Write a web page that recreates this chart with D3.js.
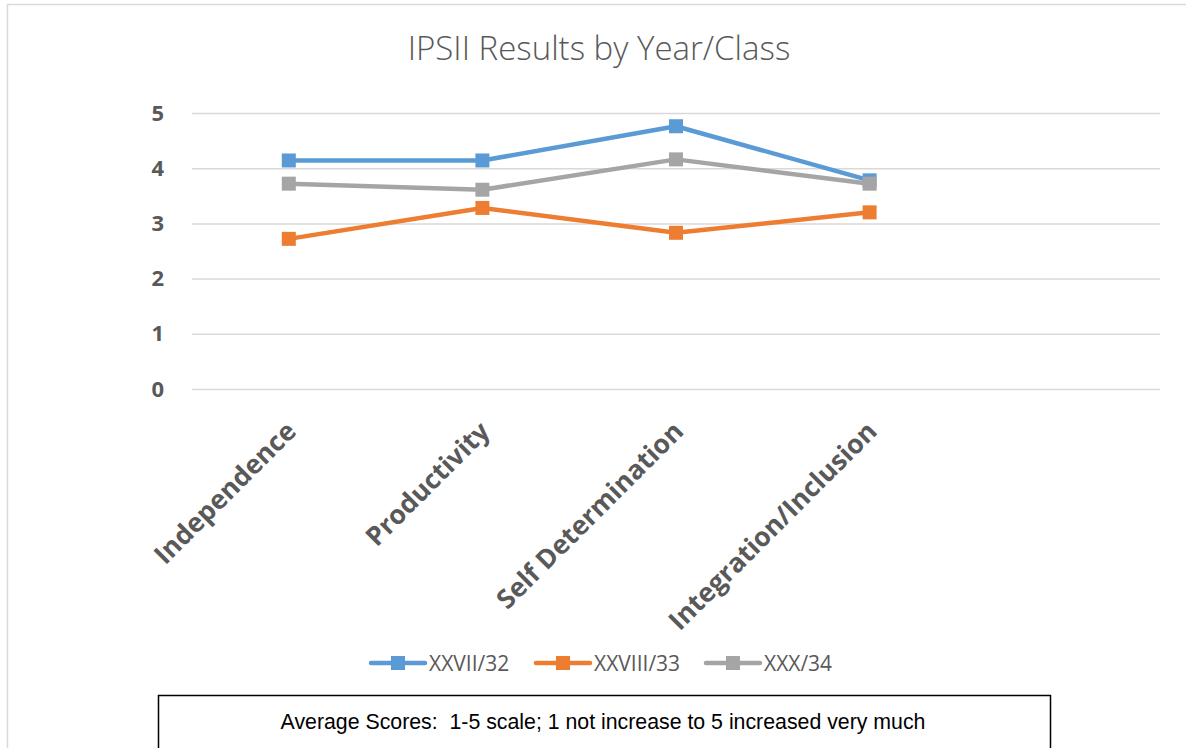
<!DOCTYPE html>
<html>
<head>
<meta charset="utf-8">
<script src="https://cdn.jsdelivr.net/npm/d3@7"></script>
<style>
  body { margin: 0; background: #fff; }
  text { font-family: "Open Sans", "Liberation Sans", sans-serif; }
</style>
</head>
<body>
<div id="chart"></div>
<script>
// Chart values
var categories = ["Independence", "Productivity", "Self Determination", "Integration/Inclusion", ""];
var seriesNames = ["XXVII/32", "XXVIII/33", "XXX/34"];
var xxvii = [4.14, 4.14, 4.76, 3.78];
var xxviii = [2.72, 3.28, 2.83, 3.2];
var xxx = [3.72, 3.61, 4.16, 3.72];
var yTicks = [0, 1, 2, 3, 4, 5];
var colors = ["#5b9bd5", "#ed7d31", "#a5a5a5"];

var svgWidth = 1186;
var svgHeight = 748;

var margin = { top: 113, right: 26, bottom: 359, left: 192 };
var width = svgWidth - margin.left - margin.right;
var height = svgHeight - margin.top - margin.bottom;

var svg = d3.select("#chart")
  .append("svg")
  .attr("width", svgWidth)
  .attr("height", svgHeight);

// outer chart border
svg.append("rect")
  .attr("x", 7.5).attr("y", 4.5)
  .attr("width", svgWidth).attr("height", svgHeight)
  .attr("fill", "none")
  .attr("stroke", "#d9d9d9")
  .attr("stroke-width", 1.5);

svg.append("text")
  .attr("x", 599)
  .attr("y", 60)
  .attr("text-anchor", "middle")
  .attr("fill", "#595959")
  .style("font-size", "33px")
  .style("font-weight", 300)
  .text("IPSII Results by Year/Class");

var chartGroup = svg.append("g")
  .attr("transform", `translate(${margin.left}, ${margin.top})`);

var xScale = d3.scaleBand().domain(categories).range([0, width]);
var yScale = d3.scaleLinear().domain([0, 5]).range([height, 0]);

// gridlines
var yAxis = d3.axisLeft(yScale).tickValues(yTicks).tickSize(-width).tickPadding(28).tickFormat(d3.format("d"));
var yg = chartGroup.append("g").call(yAxis);
yg.select(".domain").remove();
yg.selectAll(".tick line").attr("stroke", "#d9d9d9").attr("stroke-width", 1.5);
yg.selectAll(".tick text")
  .attr("fill", "#595959")
  .style("font-size", "22px")
  .style("font-weight", "bold");

// category labels rotated
var xAxis = d3.axisBottom(xScale).tickSize(0).tickPadding(0);
var xg = chartGroup.append("g")
  .attr("transform", `translate(0, ${height})`)
  .call(xAxis);
xg.select(".domain").remove();
xg.selectAll(".tick text")
  .attr("text-anchor", "end")
  .attr("dy", "0")
  .attr("transform", "translate(9, 44) rotate(-45)")
  .attr("fill", "#595959")
  .style("font-size", "26.5px")
  .style("font-weight", "bold");

var allSeries = [xxvii, xxviii, xxx];

var line = d3.line()
  .x(function(d, i) { return xScale(categories[i]) + xScale.bandwidth() / 2; })
  .y(function(d) { return yScale(d); });

allSeries.forEach(function(values, s) {
  chartGroup.append("path")
    .datum(values)
    .attr("fill", "none")
    .attr("stroke", colors[s])
    .attr("stroke-width", 4.5)
    .attr("stroke-linejoin", "round")
    .attr("d", line);

  chartGroup.selectAll(".m" + s)
    .data(values)
    .enter()
    .append("rect")
    .attr("class", "m" + s)
    .attr("x", function(d, i) { return xScale(categories[i]) + xScale.bandwidth() / 2 - 7; })
    .attr("y", function(d) { return yScale(d) - 7; })
    .attr("width", 14)
    .attr("height", 14)
    .attr("fill", colors[s]);
});

// legend
var legendX = [371, 536, 706];
var legend = svg.append("g").attr("transform", "translate(0, 663)");
seriesNames.forEach(function(name, s) {
  var g = legend.append("g").attr("transform", `translate(${legendX[s]}, 0)`);
  g.append("line")
    .attr("x1", 0).attr("x2", 54)
    .attr("y1", 0).attr("y2", 0)
    .attr("stroke", colors[s])
    .attr("stroke-width", 4.5)
    .attr("stroke-linecap", "round");
  g.append("rect")
    .attr("x", 20).attr("y", -7)
    .attr("width", 14).attr("height", 14)
    .attr("fill", colors[s]);
  g.append("text")
    .attr("x", 58)
    .attr("y", 8)
    .attr("fill", "#595959")
    .style("font-size", "21px")
    .text(name);
});

// note box
svg.append("rect")
  .attr("x", 158.5).attr("y", 695.5)
  .attr("width", 892).attr("height", 60)
  .attr("fill", "#fff")
  .attr("stroke", "#000")
  .attr("stroke-width", 1.5);

svg.append("text")
  .attr("x", 603)
  .attr("y", 729)
  .attr("text-anchor", "middle")
  .attr("fill", "#000")
  .style("font-family", "'Liberation Sans Narrow', 'Liberation Sans', sans-serif")
  .style("font-size", "21.3px")
  .style("white-space", "pre")
  .text("Average Scores:  1-5 scale; 1 not increase to 5 increased very much");
</script>
</body>
</html>
